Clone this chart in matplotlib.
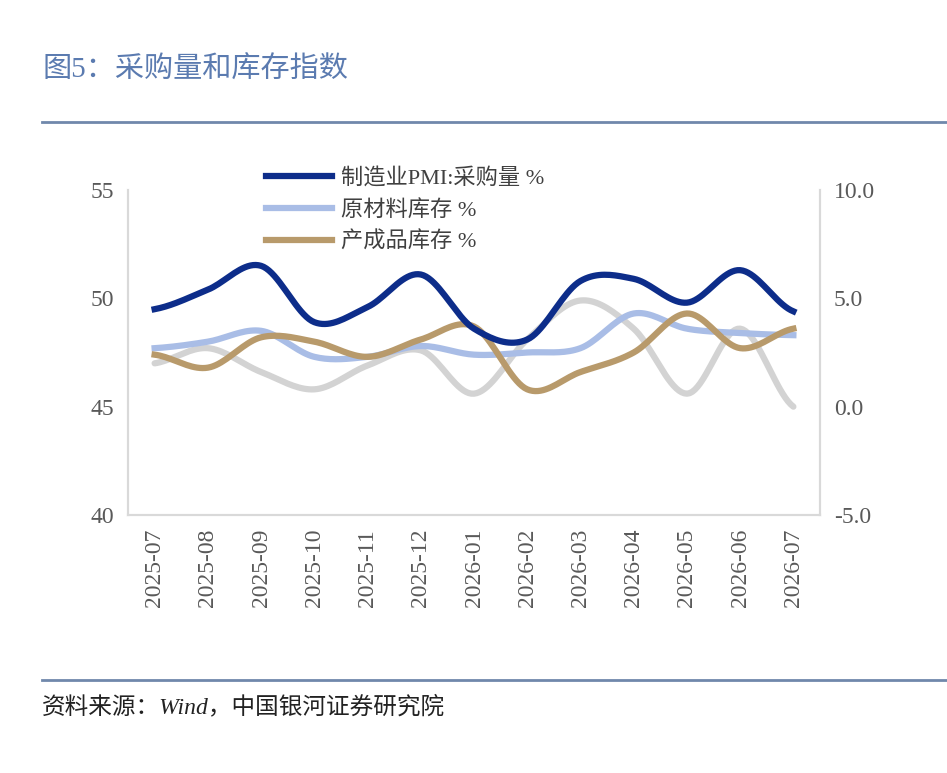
import matplotlib
matplotlib.use("Agg")
import matplotlib.pyplot as plt
import numpy as np

plt.rcParams['font.family'] = ['Liberation Serif', 'Noto Sans CJK SC', 'DejaVu Sans']

months = ["2025-07", "2025-08", "2025-09", "2025-10", "2025-11", "2025-12", "2026-01",
          "2026-02", "2026-03", "2026-04", "2026-05", "2026-06", "2026-07"]
pmi_purchase = [49.5, 50.4, 51.5, 48.9, 49.6, 51.1, 48.6, 48.1, 50.8, 50.9, 49.8, 51.3, 49.4]
raw_stock = [47.7, 48.0, 48.5, 47.3, 47.3, 47.8, 47.4, 47.5, 47.7, 49.3, 48.6, 48.4, 48.3]
finished_stock = [47.4, 46.8, 48.2, 48.0, 47.3, 48.1, 48.7, 45.8, 46.6, 47.5, 49.3, 47.7, 48.6]
gap_right = [2.0, 2.7, 1.6, 0.8, 1.9, 2.6, 0.6, 3.1, 4.9, 3.6, 0.6, 3.6, 0.0]


def smooth(y, n=20):
    # catmull-rom curve through the points, like Excel smoothed lines
    y = np.asarray(y, float)
    p = np.concatenate([[y[0]], y, [y[-1]]])
    xs, ys = [], []
    for i in range(len(y) - 1):
        t = np.linspace(0, 1, n, endpoint=False)
        p0, p1, p2, p3 = p[i], p[i + 1], p[i + 2], p[i + 3]
        v = 0.5 * ((2 * p1) + (-p0 + p2) * t + (2 * p0 - 5 * p1 + 4 * p2 - p3) * t ** 2
                   + (-p0 + 3 * p1 - 3 * p2 + p3) * t ** 3)
        xs.append(i + t)
        ys.append(v)
    xs.append([len(y) - 1])
    ys.append([y[-1]])
    return np.concatenate(xs), np.concatenate(ys)


fig = plt.figure(figsize=(9.47, 7.73), dpi=100)
ax = fig.add_axes([128 / 947, 1 - 515 / 773, (820 - 128) / 947, (515 - 190) / 773])
ax2 = ax.twinx()

x = np.arange(len(months))
ax2.plot(*smooth(gap_right), color="#d3d3d3", lw=4.5, solid_capstyle="round")
ax.plot(*smooth(raw_stock), color="#a9bde6", lw=4.5, label="原材料库存 %")
ax.plot(*smooth(finished_stock), color="#b89a6b", lw=4.5, label="产成品库存 %")
ax.plot(*smooth(pmi_purchase), color="#0d2d8a", lw=4.5, label="制造业PMI:采购量 %")
ax.set_zorder(ax2.get_zorder() + 1)
ax.patch.set_visible(False)

ax.set_ylim(40, 55)
ax.set_yticks([40, 45, 50, 55])
ax2.set_ylim(-5, 10)
ax2.set_yticks([-5, 0, 5, 10])
ax2.set_yticklabels([f"{v:.1f}" for v in [-5, 0, 5, 10]])
ax.set_xlim(-0.5, len(months) - 0.5)
ax.set_xticks(x)
ax.set_xticklabels(months, rotation=90)

for a in (ax, ax2):
    a.spines["top"].set_visible(False)
    for s in ["left", "right", "bottom"]:
        a.spines[s].set_color("#d9d9d9")
        a.spines[s].set_linewidth(1.5)
    a.tick_params(length=0, labelsize=17, colors="#595959", pad=10)

h, l = ax.get_legend_handles_labels()
order = [2, 0, 1]
ax.legend([h[i] for i in order], [l[i] for i in order], loc="upper left",
          bbox_to_anchor=(0.17, 1.13), frameon=False, fontsize=16, handlelength=3.0,
          handletextpad=0.4, labelspacing=0.5, labelcolor="#404040")

fig.text(42 / 947, 1 - 70 / 773, "图5：采购量和库存指数", fontsize=21, color="#5b7bb0", va="center")
fig.add_artist(plt.Line2D([42 / 947, 1], [1 - 122 / 773] * 2, color="#7088ab", lw=2))
fig.add_artist(plt.Line2D([42 / 947, 1], [1 - 680 / 773] * 2, color="#7088ab", lw=2))
fig.text(42 / 947, 1 - 707 / 773, "资料来源：Wind，中国银河证券研究院", fontsize=17, color="#222222",
         va="center", style="italic")

fig.savefig("out.png", dpi=100)
